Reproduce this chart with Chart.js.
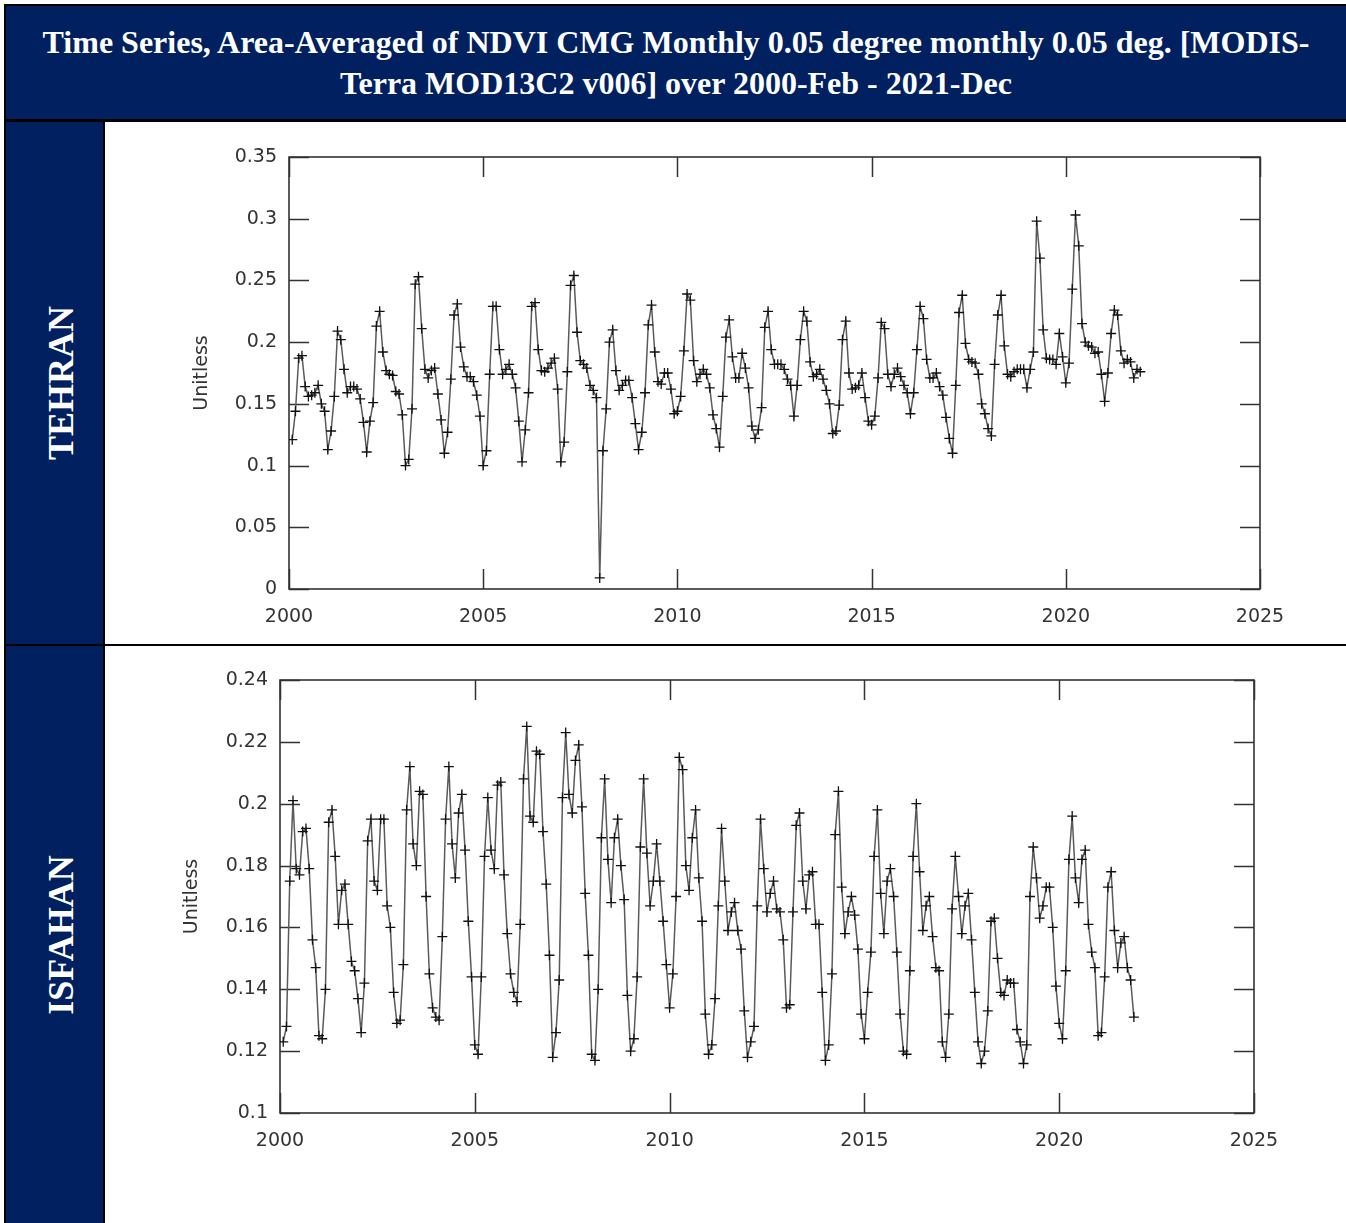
<!DOCTYPE html>
<html lang="en">
<head>
  <meta charset="UTF-8">
  <title>NDVI Time Series - Tehran / Isfahan</title>
  <script src="https://cdn.jsdelivr.net/npm/chart.js"></script>
  <style>
    body {
      margin: 0;
      padding: 0;
      width: 1346px;
      height: 1223px;
      overflow: hidden;
      background: #fff;
      position: relative;
    }
    .frame {
      position: absolute;
      left: 4px;
      top: 4px;
      right: 0;
      bottom: 0;
      background: #000;
    }
    .navy {
      position: absolute;
      background: #002060;
      color: #fff;
      font-family: "Liberation Serif", "Times New Roman", serif;
      font-weight: bold;
    }
    .header {
      left: 6px;
      top: 6px;
      width: 1340px;
      height: 113px;
      font-size: 32px;
      line-height: 41px;
      text-align: center;
      display: flex;
      align-items: center;
      justify-content: center;
    }
    .side {
      left: 6px;
      width: 97px;
    }
    .side span {
      position: absolute;
      left: calc(50% + 6px);
      top: 50%;
      transform: translate(-50%, -50%) rotate(-90deg);
      font-size: 36px;
      line-height: 1;
      white-space: nowrap;
    }
    .cell {
      position: absolute;
      left: 105px;
      width: 1241px;
      background: #fff;
    }
    canvas { display: block; }
  </style>
</head>
<body>
  <div class="frame"></div>
  <div class="navy header">Time Series, Area-Averaged of NDVI CMG Monthly 0.05 degree monthly 0.05 deg. [MODIS-<br>Terra MOD13C2 v006] over 2000-Feb - 2021-Dec</div>

  <div class="navy side" style="top:122px;height:522px;"><span>TEHRAN</span></div>
  <div class="cell" style="top:122px;height:522px;">
    <canvas id="tehranChart" width="1241" height="522"></canvas>
  </div>

  <div class="navy side" style="top:646px;height:577px;"><span>ISFAHAN</span></div>
  <div class="cell" style="top:646px;height:577px;">
    <canvas id="isfahanChart" width="1241" height="577"></canvas>
  </div>

  <script>
    // monthly series, first value = 2000-Feb, last = 2021-Dec
    const startYear = 2000;
    const startMonth = 2;

    const tehranNdvi = [
      /* 2000 */ 0.121, 0.144, 0.187, 0.189, 0.164, 0.156, 0.157, 0.159, 0.165, 0.150, 0.144,
      /* 2001 */ 0.113, 0.128, 0.156, 0.209, 0.202, 0.178, 0.159, 0.164, 0.164, 0.162, 0.154, 0.135,
      /* 2002 */ 0.111, 0.136, 0.151, 0.213, 0.225, 0.192, 0.177, 0.174, 0.173, 0.160, 0.158, 0.141,
      /* 2003 */ 0.100, 0.105, 0.146, 0.247, 0.253, 0.211, 0.178, 0.171, 0.177, 0.179, 0.158, 0.137,
      /* 2004 */ 0.110, 0.127, 0.170, 0.222, 0.231, 0.196, 0.180, 0.172, 0.172, 0.168, 0.157, 0.140,
      /* 2005 */ 0.100, 0.112, 0.174, 0.229, 0.229, 0.194, 0.174, 0.178, 0.182, 0.174, 0.163, 0.136,
      /* 2006 */ 0.103, 0.129, 0.159, 0.229, 0.232, 0.194, 0.177, 0.176, 0.179, 0.183, 0.187, 0.162,
      /* 2007 */ 0.103, 0.119, 0.176, 0.246, 0.254, 0.208, 0.185, 0.182, 0.179, 0.165, 0.161, 0.155,
      /* 2008 */ 0.009, 0.112, 0.146, 0.200, 0.210, 0.177, 0.161, 0.165, 0.169, 0.169, 0.155, 0.134,
      /* 2009 */ 0.113, 0.127, 0.159, 0.214, 0.230, 0.192, 0.168, 0.166, 0.175, 0.175, 0.162, 0.142,
      /* 2010 */ 0.144, 0.156, 0.193, 0.239, 0.234, 0.185, 0.168, 0.174, 0.178, 0.174, 0.163, 0.141,
      /* 2011 */ 0.130, 0.115, 0.156, 0.204, 0.218, 0.188, 0.171, 0.171, 0.191, 0.179, 0.163, 0.132,
      /* 2012 */ 0.122, 0.129, 0.147, 0.212, 0.225, 0.194, 0.182, 0.182, 0.182, 0.178, 0.170, 0.165,
      /* 2013 */ 0.140, 0.165, 0.202, 0.225, 0.217, 0.184, 0.172, 0.174, 0.178, 0.170, 0.161, 0.150,
      /* 2014 */ 0.126, 0.128, 0.149, 0.202, 0.217, 0.175, 0.162, 0.163, 0.165, 0.175, 0.155, 0.136,
      /* 2015 */ 0.133, 0.140, 0.171, 0.216, 0.211, 0.174, 0.164, 0.174, 0.179, 0.172, 0.165, 0.159,
      /* 2016 */ 0.142, 0.159, 0.194, 0.229, 0.219, 0.186, 0.171, 0.171, 0.175, 0.164, 0.157, 0.139,
      /* 2017 */ 0.122, 0.110, 0.165, 0.224, 0.238, 0.199, 0.186, 0.184, 0.183, 0.174, 0.150, 0.142,
      /* 2018 */ 0.130, 0.124, 0.182, 0.222, 0.238, 0.197, 0.174, 0.172, 0.176, 0.178, 0.178, 0.178,
      /* 2019 */ 0.163, 0.178, 0.192, 0.298, 0.268, 0.210, 0.187, 0.186, 0.186, 0.182, 0.207, 0.188,
      /* 2020 */ 0.167, 0.183, 0.243, 0.303, 0.278, 0.215, 0.200, 0.197, 0.196, 0.191, 0.192, 0.174,
      /* 2021 */ 0.152, 0.175, 0.207, 0.226, 0.222, 0.193, 0.183, 0.186, 0.184, 0.171, 0.178, 0.176
    ];

    const isfahanNdvi = [
      /* 2000 */ 0.123, 0.128, 0.175, 0.201, 0.179, 0.177, 0.191, 0.192, 0.179, 0.156, 0.147,
      /* 2001 */ 0.125, 0.124, 0.140, 0.194, 0.198, 0.183, 0.161, 0.172, 0.174, 0.161, 0.149, 0.146,
      /* 2002 */ 0.137, 0.126, 0.142, 0.188, 0.195, 0.175, 0.172, 0.195, 0.195, 0.167, 0.160, 0.139,
      /* 2003 */ 0.129, 0.130, 0.148, 0.198, 0.212, 0.187, 0.180, 0.204, 0.203, 0.170, 0.145, 0.134,
      /* 2004 */ 0.131, 0.130, 0.157, 0.195, 0.212, 0.187, 0.176, 0.197, 0.203, 0.185, 0.162, 0.144,
      /* 2005 */ 0.122, 0.119, 0.144, 0.183, 0.202, 0.185, 0.179, 0.206, 0.207, 0.177, 0.158, 0.145,
      /* 2006 */ 0.139, 0.136, 0.161, 0.208, 0.225, 0.196, 0.194, 0.217, 0.216, 0.191, 0.174, 0.151,
      /* 2007 */ 0.118, 0.126, 0.143, 0.202, 0.223, 0.203, 0.197, 0.214, 0.219, 0.199, 0.171, 0.151,
      /* 2008 */ 0.119, 0.117, 0.140, 0.189, 0.208, 0.182, 0.168, 0.189, 0.195, 0.180, 0.169, 0.138,
      /* 2009 */ 0.120, 0.124, 0.144, 0.186, 0.208, 0.184, 0.167, 0.175, 0.187, 0.175, 0.162, 0.148,
      /* 2010 */ 0.134, 0.145, 0.170, 0.215, 0.211, 0.180, 0.172, 0.189, 0.198, 0.176, 0.162, 0.132,
      /* 2011 */ 0.119, 0.122, 0.137, 0.167, 0.192, 0.175, 0.159, 0.165, 0.168, 0.159, 0.153, 0.133,
      /* 2012 */ 0.118, 0.123, 0.128, 0.167, 0.195, 0.179, 0.165, 0.171, 0.175, 0.166, 0.165, 0.156,
      /* 2013 */ 0.134, 0.135, 0.165, 0.193, 0.197, 0.175, 0.166, 0.177, 0.178, 0.161, 0.161, 0.139,
      /* 2014 */ 0.117, 0.122, 0.145, 0.190, 0.204, 0.173, 0.158, 0.165, 0.170, 0.164, 0.153, 0.132,
      /* 2015 */ 0.124, 0.139, 0.152, 0.183, 0.198, 0.171, 0.158, 0.175, 0.179, 0.170, 0.152, 0.132,
      /* 2016 */ 0.120, 0.119, 0.146, 0.183, 0.200, 0.178, 0.159, 0.167, 0.170, 0.157, 0.147, 0.146,
      /* 2017 */ 0.123, 0.118, 0.132, 0.166, 0.183, 0.170, 0.158, 0.167, 0.171, 0.156, 0.139, 0.123,
      /* 2018 */ 0.116, 0.120, 0.133, 0.162, 0.163, 0.150, 0.139, 0.138, 0.143, 0.142, 0.142, 0.127,
      /* 2019 */ 0.123, 0.116, 0.122, 0.170, 0.186, 0.176, 0.163, 0.167, 0.173, 0.173, 0.160, 0.141,
      /* 2020 */ 0.129, 0.124, 0.146, 0.182, 0.196, 0.176, 0.168, 0.182, 0.185, 0.161, 0.152, 0.147,
      /* 2021 */ 0.125, 0.126, 0.144, 0.173, 0.178, 0.159, 0.147, 0.155, 0.157, 0.147, 0.143, 0.131
    ];

    // axis ticks
    const yearTicks = [2000, 2005, 2010, 2015, 2020, 2025];
    const tehranYTicks = [0, 0.05, 0.1, 0.15, 0.2, 0.25, 0.3, 0.35];
    const isfahanYTicks = [0.1, 0.12, 0.14, 0.16, 0.18, 0.2, 0.22, 0.24];

    // frame around plot area + gnuplot style inward ticks on all four sides
    const innerTicks = {
      id: 'innerTicks',
      beforeDatasetsDraw(chart) {
        const { ctx, chartArea: a, scales: { x, y } } = chart;
        const len = 20;
        ctx.save();
        ctx.strokeStyle = '#333';
        ctx.lineWidth = 1.5;
        ctx.beginPath();
        x.ticks.forEach(t => {
          const px = Math.round(x.getPixelForValue(t.value)) + 0.5;
          ctx.moveTo(px, a.bottom); ctx.lineTo(px, a.bottom - len);
          ctx.moveTo(px, a.top); ctx.lineTo(px, a.top + len);
        });
        y.ticks.forEach(t => {
          const py = Math.round(y.getPixelForValue(t.value)) + 0.5;
          ctx.moveTo(a.left, py); ctx.lineTo(a.left + len, py);
          ctx.moveTo(a.right, py); ctx.lineTo(a.right - len, py);
        });
        ctx.stroke();
        ctx.lineWidth = 1.6;
        ctx.strokeRect(a.left, a.top, a.right - a.left, a.bottom - a.top);
        ctx.restore();
      }
    };

    function monthlyPoints(values) {
      return values.map((v, i) => ({ x: startYear + (startMonth - 1 + i) / 12, y: v }));
    }

    function makeChart(canvasId, values, yTicks, box) {
      const tickFont = { family: 'DejaVu Sans', size: 19 };
      return new Chart(document.getElementById(canvasId), {
        type: 'line',
        data: {
          datasets: [{
            data: monthlyPoints(values),
            borderColor: '#5a5a5a',
            borderWidth: 1.5,
            pointStyle: 'cross',
            pointRadius: 5,
            pointBorderColor: '#111',
            pointBorderWidth: 1.3,
            tension: 0
          }]
        },
        options: {
          responsive: false,
          animation: false,
          devicePixelRatio: 1,
          layout: { padding: { left: 0, top: box.top, right: box.right, bottom: 0 } },
          plugins: { legend: { display: false }, tooltip: { enabled: false } },
          scales: {
            x: {
              type: 'linear',
              min: yearTicks[0],
              max: yearTicks[yearTicks.length - 1],
              afterBuildTicks: s => { s.ticks = yearTicks.map(v => ({ value: v })); },
              afterFit: s => { s.height = box.xHeight; },
              grid: { display: false, drawTicks: false },
              border: { display: false },
              ticks: {
                font: tickFont,
                color: '#333',
                padding: 17,
                maxRotation: 0,
                callback: v => String(v)
              }
            },
            y: {
              min: yTicks[0],
              max: yTicks[yTicks.length - 1],
              afterBuildTicks: s => { s.ticks = yTicks.map(v => ({ value: v })); },
              afterFit: s => { s.width = box.yWidth; },
              grid: { display: false, drawTicks: false },
              border: { display: false },
              ticks: {
                font: tickFont,
                color: '#333',
                padding: 12,
                callback: v => String(+v.toFixed(2))
              },
              title: {
                display: true,
                text: 'Unitless',
                color: '#333',
                font: tickFont,
                padding: { top: box.titleX - 11.4, bottom: 0 }
              }
            }
          }
        },
        plugins: [innerTicks]
      });
    }

    makeChart('tehranChart', tehranNdvi, tehranYTicks,
      { top: 35, right: 86, yWidth: 184, xHeight: 55, titleX: 97 });
    makeChart('isfahanChart', isfahanNdvi, isfahanYTicks,
      { top: 34, right: 92, yWidth: 175, xHeight: 110, titleX: 87 });
  </script>
</body>
</html>
